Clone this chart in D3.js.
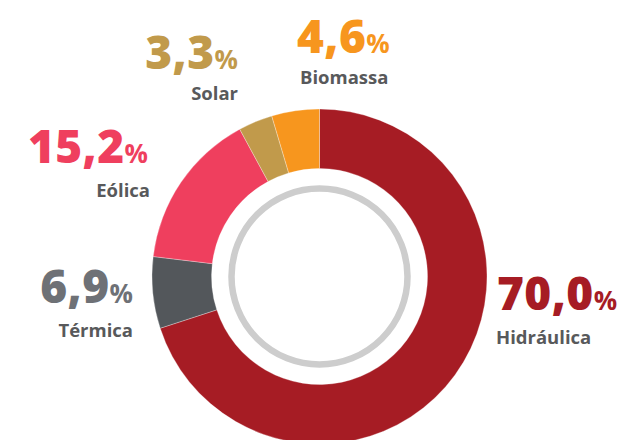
<!DOCTYPE html>
<html>
<head>
<meta charset="utf-8">
<script src="https://cdn.jsdelivr.net/npm/d3@7"></script>
<style>
  body { margin: 0; background: #fff; }
  svg text { font-family: "Open Sans", "Noto Sans", sans-serif; font-weight: 700; }
</style>
</head>
<body>
<svg id="chart" width="620" height="440"></svg>
<script>
// Data: share of each source (%), in drawing order clockwise from the top
const sources = ['Hidráulica', 'Térmica', 'Eólica', 'Solar', 'Biomassa'];
const shares = [70.0, 6.9, 15.2, 3.3, 4.6];
const colors = ['#a61c24', '#53575b', '#ef3f5e', '#c19a4b', '#f7961e'];
const textColors = ['#a61c24', '#6e7176', '#ef3f5e', '#c19a4b', '#f7961e'];

// Label placement (value + name), anchor side
const labelX = [497, 133, 148, 238, 297];
const labelY = [310, 303, 163, 69, 53];
const labelAnchor = ['start', 'end', 'end', 'end', 'start'];
const nameX = [496, 133, 150, 238, 300];

const svg = d3.select('#chart');
const cx = 319.5, cy = 276.5;
const outerR = 167.5, innerR = 108;

const pie = d3.pie().sort(null).value(d => d.value);
const arc = d3.arc().innerRadius(innerR).outerRadius(outerR);

const data = sources.map((s, i) => ({ name: s, value: shares[i], color: colors[i] }));

const g = svg.append('g').attr('transform', `translate(${cx},${cy})`);

g.selectAll('path.slice')
  .data(pie(data))
  .join('path')
  .attr('class', 'slice')
  .attr('d', arc)
  .attr('fill', d => d.data.color)
  .attr('stroke', '#ffffff')
  .attr('stroke-opacity', 0.5)
  .attr('stroke-width', 0.6);

// grey inner ring
g.append('circle')
  .attr('r', 88)
  .attr('fill', 'none')
  .attr('stroke', '#cdcdcd')
  .attr('stroke-width', 6.5);

// labels
const fmt = v => v.toFixed(1).replace('.', ',');

data.forEach((d, i) => {
  const t = svg.append('text')
    .attr('x', labelX[i])
    .attr('y', labelY[i])
    .attr('text-anchor', labelAnchor[i])
    .attr('fill', textColors[i]);
  t.append('tspan').attr('font-size', 46).attr('font-weight', 800)
    .attr('letter-spacing', 0.4).text(fmt(d.value));
  t.append('tspan').attr('font-size', 26).attr('font-weight', 700).text('%');

  svg.append('text')
    .attr('x', nameX[i])
    .attr('y', labelY[i] + (i === 3 || i === 4 ? 31 : 34))
    .attr('text-anchor', labelAnchor[i])
    .attr('font-size', 18.5)
    .attr('fill', '#58595b')
    .text(d.name);
});
</script>
</body>
</html>
